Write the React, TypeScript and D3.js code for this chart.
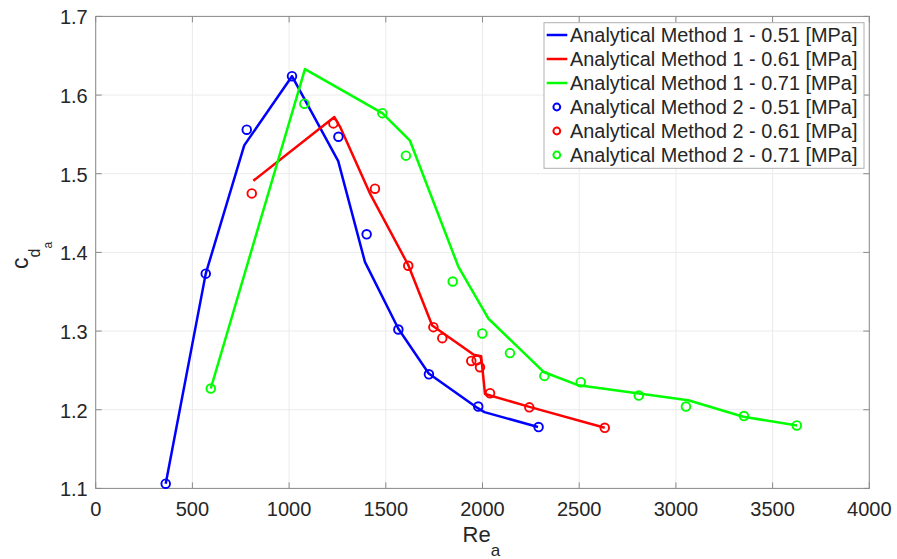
import React from "react";
import * as d3 from "d3";

// ---- data ----
const xTicks = [0, 500, 1000, 1500, 2000, 2500, 3000, 3500, 4000];
const yTicks = [1.1, 1.2, 1.3, 1.4, 1.5, 1.6, 1.7];

const m1_051_x = [362, 569, 768, 1015, 1254, 1392, 1565, 1722, 1976, 2010, 2287];
const m1_051_y = [1.106, 1.373, 1.536, 1.624, 1.516, 1.388, 1.303, 1.246, 1.202, 1.197, 1.178];

const m1_061_x = [815, 1234, 1263, 1420, 1616, 1740, 1955, 1993, 2013, 2238, 2632];
const m1_061_y = [1.491, 1.572, 1.56, 1.474, 1.384, 1.307, 1.27, 1.268, 1.22, 1.204, 1.177];

const m1_071_x = [595, 1082, 1482, 1625, 1875, 2030, 2316, 2497, 3064, 3349, 3627];
const m1_071_y = [1.227, 1.633, 1.577, 1.542, 1.382, 1.316, 1.248, 1.231, 1.212, 1.191, 1.18];

const m2_051_x = [362, 569, 781, 1015, 1255, 1401, 1565, 1723, 1978, 2290];
const m2_051_y = [1.106, 1.373, 1.556, 1.624, 1.547, 1.423, 1.302, 1.245, 1.204, 1.178];

const m2_061_x = [807, 1229, 1444, 1616, 1746, 1792, 1942, 1970, 1987, 2039, 2242, 2632];
const m2_061_y = [1.475, 1.564, 1.481, 1.383, 1.305, 1.291, 1.262, 1.263, 1.254, 1.221, 1.203, 1.177];

const m2_071_x = [595, 1079, 1482, 1604, 1846, 1999, 2142, 2320, 2508, 2808, 3052, 3352, 3625];
const m2_071_y = [1.227, 1.589, 1.577, 1.523, 1.363, 1.297, 1.272, 1.243, 1.235, 1.218, 1.204, 1.192, 1.18];

const legendLabels = [
  "Analytical Method 1 - 0.51 [MPa]",
  "Analytical Method 1 - 0.61 [MPa]",
  "Analytical Method 1 - 0.71 [MPa]",
  "Analytical Method 2 - 0.51 [MPa]",
  "Analytical Method 2 - 0.61 [MPa]",
  "Analytical Method 2 - 0.71 [MPa]",
];

const BLUE = "#0000ff";
const RED = "#ff0000";
const GREEN = "#00ff00";

const W = 897;
const H = 559;
const L = 95.7;
const R = 869.3;
const T = 16.4;
const B = 488.4;

const FONT = "'Liberation Sans', Arial, Helvetica, sans-serif";
const TXT = "#262626";

export default function App() {
  const x = d3.scaleLinear().domain([0, 4000]).range([L, R]);
  const y = d3.scaleLinear().domain([1.1, 1.7]).range([B, T]);

  const line = d3
    .line<[number, number]>()
    .x((d) => x(d[0]))
    .y((d) => y(d[1]));

  const zip = (a: number[], b: number[]) => a.map((v, i) => [v, b[i]] as [number, number]);

  const lines = [
    { pts: zip(m1_051_x, m1_051_y), c: BLUE },
    { pts: zip(m1_061_x, m1_061_y), c: RED },
    { pts: zip(m1_071_x, m1_071_y), c: GREEN },
  ];
  const marks = [
    { pts: zip(m2_051_x, m2_051_y), c: BLUE },
    { pts: zip(m2_061_x, m2_061_y), c: RED },
    { pts: zip(m2_071_x, m2_071_y), c: GREEN },
  ];

  const legendColors = [BLUE, RED, GREEN, BLUE, RED, GREEN];
  const tickLen = 6;

  return (
    <svg
      width={W}
      height={H}
      style={{ position: "absolute", left: 0, top: 0, background: "#fff" }}
      fontFamily={FONT}
    >
      <rect x={0} y={0} width={W} height={H} fill="#fff" />
      {/* grid */}
      {xTicks.map((t) => (
        <line key={"gx" + t} x1={x(t)} x2={x(t)} y1={T} y2={B} stroke="#ebebeb" strokeWidth={1} />
      ))}
      {yTicks.map((t) => (
        <line key={"gy" + t} x1={L} x2={R} y1={y(t)} y2={y(t)} stroke="#ebebeb" strokeWidth={1} />
      ))}
      {/* ticks */}
      {xTicks.map((t) => (
        <g key={"tx" + t} stroke="#8a8a8a" strokeWidth={1}>
          <line x1={x(t)} x2={x(t)} y1={B} y2={B - tickLen} />
          <line x1={x(t)} x2={x(t)} y1={T} y2={T + tickLen} />
        </g>
      ))}
      {yTicks.map((t) => (
        <g key={"ty" + t} stroke="#8a8a8a" strokeWidth={1}>
          <line x1={L} x2={L + tickLen} y1={y(t)} y2={y(t)} />
          <line x1={R} x2={R - tickLen} y1={y(t)} y2={y(t)} />
        </g>
      ))}
      {/* box */}
      <rect x={L} y={T} width={R - L} height={B - T} fill="none" stroke="#8a8a8a" strokeWidth={1} />
      {/* tick labels */}
      {xTicks.map((t) => (
        <text key={"lx" + t} x={x(t)} y={B + 28} textAnchor="middle" fontSize={20} fill={TXT}>
          {t}
        </text>
      ))}
      {yTicks.map((t) => (
        <text key={"ly" + t} x={L - 8} y={y(t) + 8} textAnchor="end" fontSize={20} fill={TXT}>
          {t.toFixed(1)}
        </text>
      ))}
      {/* axis labels */}
      <text x={462.5} y={542} fontSize={22} fill={TXT}>
        Re
        <tspan fontSize={17} dy={14}>
          a
        </tspan>
      </text>
      <g transform="translate(28,269) rotate(-90)">
        <text x={0} y={0} fontSize={23} fill={TXT}>
          c
          <tspan fontSize={16} dy={12}>
            d
          </tspan>
          <tspan fontSize={12} dy={12}>
            a
          </tspan>
        </text>
      </g>
      {/* lines */}
      <g>
        {lines.map((s, i) => (
          <path key={"l" + i} d={line(s.pts) || ""} fill="none" stroke={s.c} strokeWidth={2.5} strokeLinejoin="round" />
        ))}
        {marks.map((s, i) =>
          s.pts.map((p, j) => (
            <circle key={"m" + i + "-" + j} cx={x(p[0])} cy={y(p[1])} r={4.3} fill="none" stroke={s.c} strokeWidth={1.9} />
          ))
        )}
      </g>
      {/* legend */}
      <rect x={544} y={22.7} width={320} height={145.6} fill="#fff" stroke="#b0b0b0" strokeWidth={1} />
      {legendLabels.map((lab, i) => {
        const cy = 35 + i * 24;
        return (
          <g key={"lg" + i}>
            {i < 3 ? (
              <line x1={546.7} x2={567.3} y1={cy} y2={cy} stroke={legendColors[i]} strokeWidth={2.5} />
            ) : (
              <circle cx={556.8} cy={cy} r={3.4} fill="none" stroke={legendColors[i]} strokeWidth={2} />
            )}
            <text x={570} y={cy + 7} fontSize={19.9} fill={TXT}>
              {lab}
            </text>
          </g>
        );
      })}
    </svg>
  );
}
